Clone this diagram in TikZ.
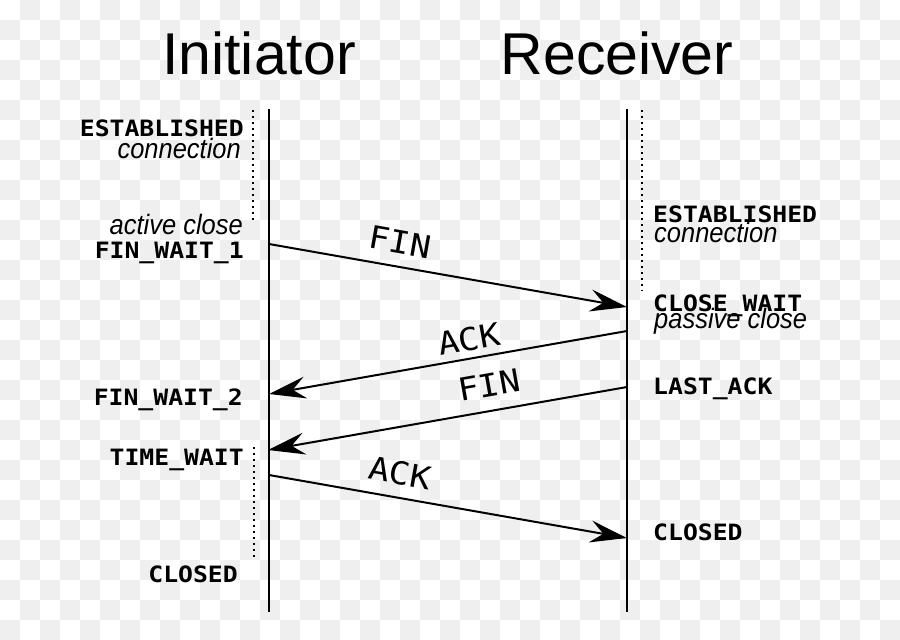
\documentclass[tikz,border=0pt]{standalone}
\usepackage{fontspec}
\usetikzlibrary{arrows.meta}
\newfontfamily\lblmono{DejaVu Sans Mono}[FakeStretch=1.1]
\newfontfamily\lblit{Liberation Sans}[FakeStretch=0.91]
\newfontfamily\lblttl{Liberation Sans}
\definecolor{bgg}{HTML}{EFEFEF}
\tikzset{
  ttl/.style={font=\lblttl\fontsize{59}{59}\selectfont, anchor=base, inner sep=0pt},
  stl/.style={font=\lblmono\bfseries\fontsize{22.5}{22.5}\selectfont, inner sep=0pt},
  itl/.style={font=\lblit\itshape\fontsize{28}{28}\selectfont, inner sep=0pt},
  msglbl/.style={font=\lblmono\fontsize{31.5}{31.5}\selectfont, inner sep=0pt},
  lifeline/.style={line width=2.5pt},
  dots/.style={line width=2.5pt, dash pattern=on 2pt off 4pt},
  msg/.style={line width=2pt, -{Stealth[length=37pt,width=22pt,inset=13pt]}}
}
\begin{document}
\begin{tikzpicture}[x=1pt,y=-1pt]
\useasboundingbox (0,0) rectangle (900,640);
\fill[white] (0,0) rectangle (900,640);
\foreach \j in {0,...,31}{
  \pgfmathtruncatemacro\o{mod(\j+1,2)}
  \foreach \i in {0,...,22}{
    \fill[bgg] (\o*20+\i*40,\j*20) rectangle ++(20,20);
  }
}
% titles
\node[ttl] (tinit) at (259,74.5) {Initiator};
\node[ttl] (trecv) at (617,74.5) {Receiver};
% lifelines
\coordinate (itop) at (269,109);
\coordinate (ibot) at (269,612);
\coordinate (rtop) at (627,109);
\coordinate (rbot) at (627,612);
\draw[lifeline] (itop) -- (ibot);
\draw[lifeline] (rtop) -- (rbot);
% dotted markers
\coordinate (d1a) at (253,110); \coordinate (d1b) at (253,221);
\coordinate (d2a) at (254,447); \coordinate (d2b) at (254,558);
\coordinate (d3a) at (642,110); \coordinate (d3b) at (642,291);
\draw[dots] (d1a) -- (d1b);
\draw[dots] (d2a) -- (d2b);
\draw[dots] (d3a) -- (d3b);
% left states
\node[stl, anchor=base east] (lest) at (244,136) {ESTABLISHED};
\node[itl, anchor=base east] (lcon) at (241,158.3) {connection};
\node[itl, anchor=base east] (lact) at (243,234.3) {active close};
\node[stl, anchor=base east] (lfw1) at (244,258.5) {FIN\_WAIT\_1};
\node[stl, anchor=base east] (lfw2) at (243,405.5) {FIN\_WAIT\_2};
\node[stl, anchor=base east] (ltw) at (244,465.5) {TIME\_WAIT};
\node[stl, anchor=base east] (lcl) at (238,582.5) {CLOSED};
% right states
\node[stl, anchor=base west] (rest) at (653,222.3) {ESTABLISHED};
\node[itl, anchor=base west] (rcon) at (654,242.3) {connection};
\node[stl, anchor=base west] (rcw) at (653,311.7) {CLOSE\_WAIT};
\node[itl, anchor=base west] (rpas) at (654,328) {passive close};
\node[stl, anchor=base west] (rla) at (653,394.3) {LAST\_ACK};
\node[stl, anchor=base west] (rcl) at (653,540) {CLOSED};
% message end points
\coordinate (i1) at (269,244); \coordinate (r1) at (627,307);
\coordinate (r2) at (627,331); \coordinate (i2) at (269,394);
\coordinate (r3) at (627,387); \coordinate (i3) at (268,450);
\coordinate (i4) at (269,475); \coordinate (r4) at (627,538);
\draw[msg] (i1) -- (r1);
\draw[msg] (r2) -- (i2);
\draw[msg] (r3) -- (i3);
\draw[msg] (i4) -- (r4);
% message labels
\node[msglbl, rotate=-10] (m1) at (400,242) {FIN};
\node[msglbl, rotate=10] (m2) at (469,339) {ACK};
\node[msglbl, rotate=10] (m3) at (489,385) {FIN};
\node[msglbl, rotate=-10] (m4) at (400,473) {ACK};
\end{tikzpicture}
\end{document}
